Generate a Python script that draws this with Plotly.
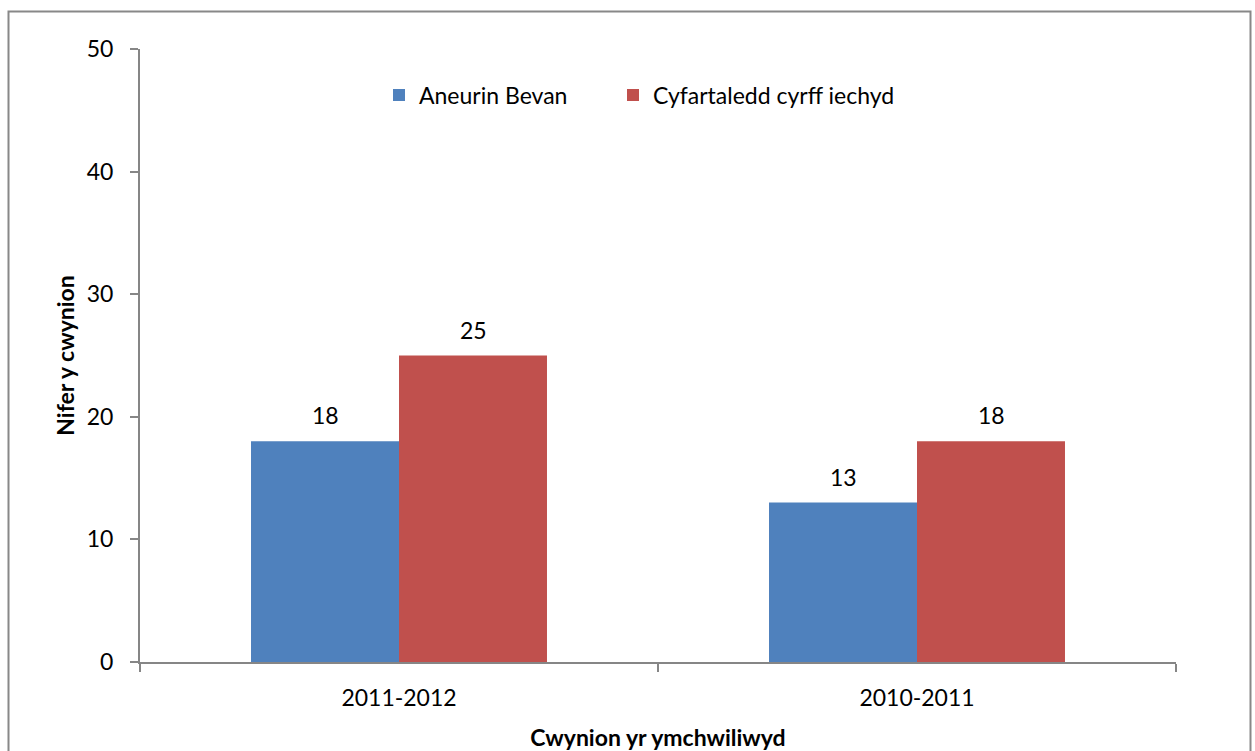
import plotly.graph_objects as go

categories = ["2011-2012", "2010-2011"]
aneurin_bevan = [18, 13]
cyfartaledd = [25, 18]
series_names = ["Aneurin Bevan", "Cyfartaledd cyrff iechyd"]
y_ticks = [0, 10, 20, 30, 40, 50]

FONT = "Lato, 'Open Sans', sans-serif"
FS = 23
W, H = 1255, 751
L, R, T, B = 140, 79, 49, 89
pw, ph = W - L - R, H - T - B

def px_x(p):
    return (p - L) / pw

def px_y(p):
    return (H - B - p) / ph

colors = ["#4F81BD", "#C0504D"]
values = [aneurin_bevan, cyfartaledd]
legends = ["legend", "legend2"]

fig = go.Figure()
for name, vals, col, lg in zip(series_names, values, colors, legends):
    fig.add_trace(go.Bar(
        x=categories, y=vals, name=name, legend=lg,
        marker=dict(color=col, line=dict(width=0)),
    ))

# data labels above each bar
half_bar = 74
annotations = []
for k, vals in enumerate(values):
    for cat, v in zip(categories, vals):
        annotations.append(dict(
            x=cat, y=v, xref="x", yref="y", text=str(v), showarrow=False,
            xshift=(-half_bar if k == 0 else half_bar), yshift=26,
            yanchor="middle", font=dict(size=FS, family=FONT, color="black"),
        ))

leg_common = dict(
    orientation="h", yanchor="middle", xanchor="left", y=px_y(95),
    font=dict(size=FS, family=FONT), itemwidth=30, bgcolor="rgba(0,0,0,0)",
)

fig.update_layout(
    width=W, height=H,
    margin=dict(l=L, r=R, t=T, b=B),
    paper_bgcolor="white", plot_bgcolor="white",
    barmode="group", bargap=0.4286, bargroupgap=0,
    font=dict(family=FONT, size=FS, color="black"),
    showlegend=True,
    legend=dict(x=px_x(379), **leg_common),
    legend2=dict(x=px_x(613), **leg_common),
    annotations=annotations,
    xaxis=dict(
        type="category", showline=True, linecolor="#868686", linewidth=2,
        ticks="outside", tickson="boundaries", ticklen=8, tickcolor="#868686",
        tickwidth=2, showgrid=False, zeroline=False, ticklabelstandoff=14,
        tickfont=dict(size=FS, family=FONT), automargin=False,
        title=dict(text="<b>Cwynion yr ymchwiliwyd</b>", font=dict(size=FS, family=FONT), standoff=29),
    ),
    yaxis=dict(
        range=[0, 50], tickvals=y_ticks, showline=True, linecolor="#868686",
        linewidth=2, ticks="outside", ticklen=8, tickcolor="#868686", tickwidth=2,
        showgrid=False, zeroline=False, ticklabelstandoff=12, automargin=False,
        tickfont=dict(size=FS, family=FONT),
        title=dict(text="<b>Nifer y cwynion</b>", font=dict(size=FS, family=FONT), standoff=6),
    ),
    shapes=[dict(
        type="rect", xref="paper", yref="paper",
        x0=px_x(8.5), x1=px_x(1250.5), y0=px_y(760), y1=px_y(11.5),
        line=dict(color="#888888", width=2), fillcolor="rgba(0,0,0,0)", layer="below",
    )],
)

fig.write_html("out.html")
